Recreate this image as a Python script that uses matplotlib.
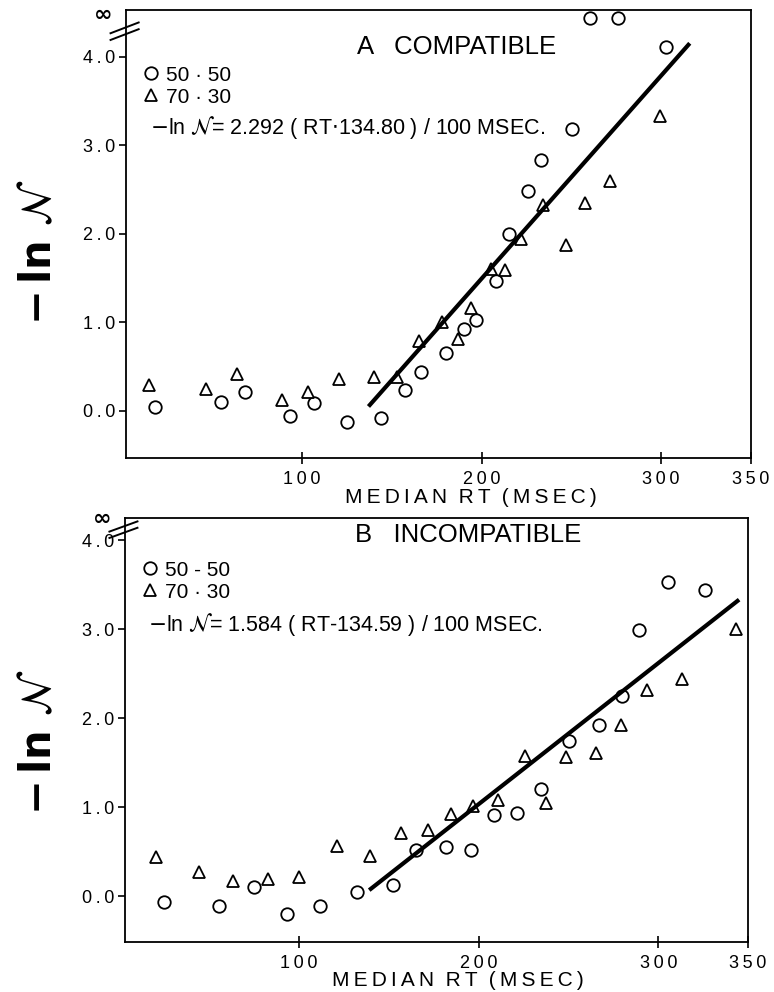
import matplotlib
matplotlib.use("Agg")
import matplotlib.pyplot as plt
from matplotlib.lines import Line2D
import numpy as np

plt.rcParams['font.family'] = ['Liberation Sans', 'DejaVu Sans']
plt.rcParams['mathtext.fontset'] = 'dejavusans'

# ---- panel A: compatible ----
a_c_x = [18.3, 55.1, 68.1, 93.5, 106.5, 125.1, 144.1, 157.1, 166.0, 180.3, 190.1,
         197.0, 208.3, 215.2, 226.0, 233.4, 250.5, 260.7, 275.9, 303.0]
a_c_y = [0.04, 0.10, 0.21, -0.06, 0.09, -0.13, -0.08, 0.24, 0.44, 0.66, 0.92,
         1.03, 1.47, 2.00, 2.48, 2.84, 3.18, 4.44, 4.44, 4.11]
a_t_x = [14.6, 46.7, 63.8, 88.9, 103.2, 120.4, 139.9, 153.0, 165.0, 177.7, 186.7,
         194.2, 205.0, 213.3, 222.2, 234.1, 247.1, 257.5, 271.4, 299.3]
a_t_y = [0.29, 0.25, 0.42, 0.12, 0.21, 0.36, 0.38, 0.38, 0.79, 1.00, 0.81,
         1.16, 1.60, 1.59, 1.94, 2.33, 1.87, 2.35, 2.60, 3.33]
a_slope, a_x0 = 2.292, 134.80
a_fit_x = [137, 316]

# ---- panel B: incompatible ----
b_c_x = [24.8, 55.2, 74.6, 93.2, 111.7, 132.1, 152.5, 165.0, 181.7, 195.6, 208.7,
         221.2, 234.7, 250.3, 267.0, 280.0, 289.5, 305.6, 326.0]
b_c_y = [-0.06, -0.11, 0.11, -0.20, -0.11, 0.05, 0.13, 0.52, 0.55, 0.52, 0.91,
         0.94, 1.21, 1.74, 1.92, 2.25, 2.99, 3.53, 3.44]
b_t_x = [20.4, 44.3, 63.1, 82.4, 100.0, 121.0, 139.5, 156.6, 172.0, 184.5, 197.0,
         211.0, 225.5, 237.4, 248.5, 265.4, 279.1, 293.6, 313.4, 343.3]
b_t_y = [0.44, 0.27, 0.17, 0.20, 0.22, 0.56, 0.45, 0.71, 0.75, 0.92, 1.01,
         1.08, 1.58, 1.05, 1.56, 1.61, 1.93, 2.32, 2.44, 3.00]
b_slope, b_x0 = 1.584, 134.59
b_fit_x = [139, 345]

ts = '\u2009'
xticks = [100, 200, 300, 350]
xtick_labels = [ts.join(str(v)) for v in xticks]
yticks = [0, 1, 2, 3, 4]
ytick_labels = [ts.join('%.1f' % v) for v in yticks]
xlabel = ts.join('MEDIAN') + '  ' + ts.join('RT') + '  ' + ts.join('(MSEC)')

fig = plt.figure(figsize=(7.74, 9.92), dpi=100)
ax1 = fig.add_axes([0.163, 0.538, 0.807, 0.452])
ax2 = fig.add_axes([0.1615, 0.0504, 0.805, 0.4274])


def draw_panel(ax, cx, cy, tx, ty, slope, x0, fit_x, xlim, ylim):
    ax.plot(cx, cy, 'o', ms=9, mfc='white', mec='black', mew=1.3, zorder=3)
    ax.plot(tx, ty, '^', ms=8, mfc='white', mec='black', mew=1.3, zorder=3)
    fx = np.array(fit_x, dtype=float)
    ax.plot(fx, slope * (fx - x0) / 100, color='black', lw=3, solid_capstyle='butt', zorder=4)
    ax.set_xlim(*xlim)
    ax.set_ylim(*ylim)
    ax.set_xticks(xticks)
    ax.set_xticklabels(xtick_labels, fontsize=13)
    ax.set_yticks(yticks)
    ax.set_yticklabels(ytick_labels, fontsize=13)
    ax.tick_params(axis='x', direction='inout', length=8, width=1.2, pad=5)
    ax.tick_params(axis='y', direction='out', length=5, width=1.2, pad=3)
    for s in ax.spines.values():
        s.set_linewidth(1.3)


def add_key(ax, labels, ycenter):
    handles = [Line2D([], [], ls='none', marker='o', ms=9, mfc='white', mec='black', mew=1.3),
               Line2D([], [], ls='none', marker='^', ms=8, mfc='white', mec='black', mew=1.3)]
    ax.legend(handles, labels, loc='center left', bbox_to_anchor=(0.03, ycenter),
              frameon=False, fontsize=15, handlelength=0.6, handletextpad=0.4,
              labelspacing=0.15, borderpad=0, borderaxespad=0)


draw_panel(ax1, a_c_x, a_c_y, a_t_x, a_t_y, a_slope, a_x0, a_fit_x, (2, 350), (-0.535, 4.53))
draw_panel(ax2, b_c_x, b_c_y, b_t_x, b_t_y, b_slope, b_x0, b_fit_x, (3, 350), (-0.513, 4.25))

ax1.text(0.552, -0.087, xlabel, transform=ax1.transAxes, ha='center', va='center', fontsize=15)
ax2.text(0.534, -0.09, xlabel, transform=ax2.transAxes, ha='center', va='center', fontsize=15)

# panel annotations
ax1.text(0.37, 0.918, 'A   COMPATIBLE', transform=ax1.transAxes, fontsize=18.5, va='center')
add_key(ax1, ['50 \u00b7 50', '70 \u00b7 30'], 0.830)
ax1.text(0.038, 0.737, r'$-$ln $\mathcal{N}$= 2.292 ( RT$\cdot$134.80 ) / 100 MSEC.',
         transform=ax1.transAxes, fontsize=15.5, va='center')

ax2.text(0.369, 0.96, 'B   INCOMPATIBLE', transform=ax2.transAxes, fontsize=18.5, va='center')
add_key(ax2, ['50 - 50', '70 \u00b7 30'], 0.851)
ax2.text(0.037, 0.748, r'$-$ln $\mathcal{N}$= 1.584 ( RT-134.59 ) / 100 MSEC.',
         transform=ax2.transAxes, fontsize=15.5, va='center')

# y labels
for yc in (0.746, 0.252):
    fig.text(0.052, yc, r'$\mathbf{-\,ln}\ \mathcal{N}$', rotation=90, fontsize=30,
             ha='center', va='center')

# axis breaks and infinity marks
for ax, yb in ((ax1, [0.945, 0.96]), (ax2, [0.965, 0.98])):
    for y in yb:
        ax.add_line(Line2D([-0.025, 0.02], [y - 0.012, y + 0.012], transform=ax.transAxes,
                           color='black', lw=1.4, clip_on=False))
fig.text(0.133, 0.985, '\u221e', fontsize=16, ha='center', va='center', fontweight='bold',
         family='DejaVu Sans')
fig.text(0.132, 0.477, '\u221e', fontsize=16, ha='center', va='center', fontweight='bold',
         family='DejaVu Sans')

fig.savefig('out.png', dpi=100)
